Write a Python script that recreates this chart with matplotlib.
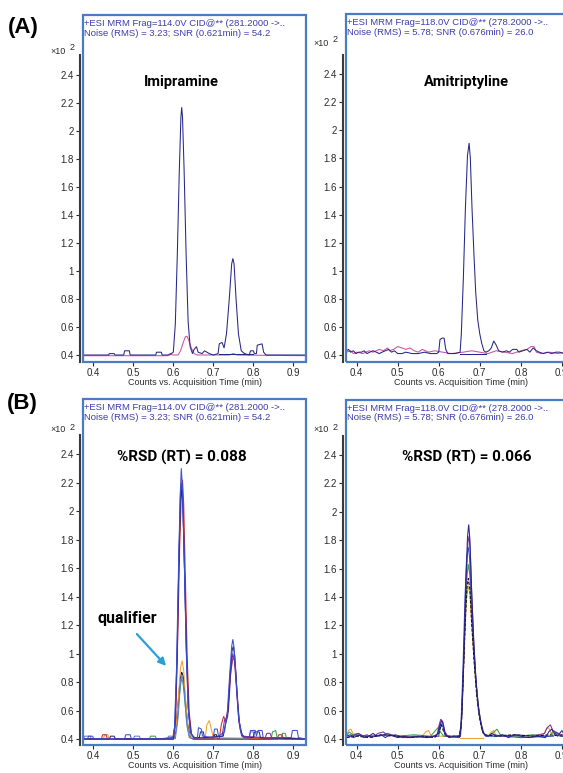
import matplotlib
matplotlib.use("Agg")
import matplotlib.pyplot as plt
from matplotlib.patches import Rectangle, FancyArrowPatch
from matplotlib.ticker import FuncFormatter

plt.rcParams['font.family'] = ['Liberation Sans', 'DejaVu Sans']

# axis ticks
time_ticks = [0.4, 0.5, 0.6, 0.7, 0.8, 0.9]
count_ticks = [0.4, 0.6, 0.8, 1.0, 1.2, 1.4, 1.6, 1.8, 2.0, 2.2, 2.4]

imi_header = ['+ESI MRM Frag=114.0V CID@** (281.2000 ->..',
              'Noise (RMS) = 3.23; SNR (0.621min) = 54.2']
ami_header = ['+ESI MRM Frag=118.0V CID@** (278.2000 ->..',
              'Noise (RMS) = 5.78; SNR (0.676min) = 26.0']

# (time min, counts x10^2) vertices
# --- (A) Imipramine, single injection
a_imi_quant = [(0.375, 0.40), (0.438, 0.40), (0.440, 0.41), (0.452, 0.41), (0.454, 0.40),
               (0.476, 0.40), (0.478, 0.43), (0.490, 0.43), (0.492, 0.40), (0.556, 0.40),
               (0.558, 0.42), (0.570, 0.42), (0.572, 0.40), (0.590, 0.40), (0.595, 0.41),
               (0.600, 0.42), (0.605, 0.62), (0.610, 1.12), (0.615, 1.72), (0.619, 2.10),
               (0.621, 2.17), (0.623, 2.10), (0.627, 1.72), (0.632, 1.12), (0.637, 0.64),
               (0.642, 0.46), (0.648, 0.41), (0.652, 0.44), (0.658, 0.46), (0.662, 0.42),
               (0.672, 0.41), (0.678, 0.43), (0.684, 0.42), (0.690, 0.41), (0.700, 0.40),
               (0.712, 0.41), (0.715, 0.48), (0.722, 0.49), (0.727, 0.45), (0.733, 0.55),
               (0.740, 0.80), (0.746, 1.05), (0.749, 1.09), (0.752, 1.05), (0.757, 0.80),
               (0.763, 0.55), (0.770, 0.43), (0.778, 0.41), (0.790, 0.40), (0.793, 0.43),
               (0.800, 0.43), (0.803, 0.41), (0.808, 0.41), (0.810, 0.47), (0.822, 0.48),
               (0.826, 0.42), (0.832, 0.40), (0.932, 0.40)]
a_imi_qual = [(0.375, 0.395), (0.585, 0.395), (0.592, 0.41), (0.598, 0.40), (0.612, 0.40),
              (0.618, 0.43), (0.625, 0.49), (0.630, 0.53), (0.634, 0.535), (0.638, 0.51),
              (0.645, 0.45), (0.652, 0.41), (0.660, 0.40), (0.740, 0.40), (0.750, 0.41),
              (0.760, 0.40), (0.932, 0.395)]
a_imi_base = [(0.715, 0.41), (0.800, 0.41)]

# --- (A) Amitriptyline, single injection
a_ami_quant = [(0.375, 0.43), (0.380, 0.44), (0.385, 0.42), (0.392, 0.43), (0.398, 0.41),
               (0.405, 0.42), (0.412, 0.42), (0.418, 0.43), (0.425, 0.41), (0.432, 0.42),
               (0.440, 0.43), (0.448, 0.42), (0.455, 0.41), (0.462, 0.42), (0.470, 0.43),
               (0.478, 0.44), (0.485, 0.42), (0.492, 0.43), (0.500, 0.41), (0.510, 0.41),
               (0.520, 0.42), (0.535, 0.41), (0.550, 0.41), (0.565, 0.42), (0.580, 0.41),
               (0.595, 0.41), (0.600, 0.42), (0.603, 0.51), (0.608, 0.52), (0.613, 0.52),
               (0.617, 0.44), (0.622, 0.41), (0.640, 0.41), (0.652, 0.42), (0.655, 0.55),
               (0.660, 0.95), (0.665, 1.45), (0.670, 1.82), (0.674, 1.91), (0.677, 1.80),
               (0.681, 1.45), (0.686, 1.10), (0.690, 0.85), (0.695, 0.65), (0.700, 0.55),
               (0.705, 0.48), (0.710, 0.43), (0.715, 0.42), (0.722, 0.43), (0.728, 0.45),
               (0.734, 0.50), (0.740, 0.47), (0.746, 0.43), (0.755, 0.42), (0.765, 0.43),
               (0.772, 0.42), (0.780, 0.44), (0.790, 0.44), (0.795, 0.42), (0.805, 0.43),
               (0.815, 0.44), (0.822, 0.42), (0.830, 0.45), (0.838, 0.43), (0.845, 0.42),
               (0.855, 0.41), (0.865, 0.42), (0.875, 0.41), (0.885, 0.42), (0.895, 0.42),
               (0.905, 0.41), (0.915, 0.42), (0.932, 0.42)]
a_ami_qual = [(0.375, 0.42), (0.385, 0.43), (0.392, 0.41), (0.400, 0.42), (0.415, 0.41),
              (0.430, 0.43), (0.440, 0.42), (0.455, 0.44), (0.465, 0.43), (0.475, 0.45),
              (0.480, 0.43), (0.490, 0.44), (0.500, 0.46), (0.510, 0.45), (0.520, 0.44),
              (0.530, 0.45), (0.540, 0.43), (0.550, 0.42), (0.560, 0.44), (0.575, 0.42),
              (0.590, 0.43), (0.610, 0.42), (0.630, 0.41), (0.660, 0.42), (0.680, 0.43),
              (0.700, 0.42), (0.720, 0.41), (0.740, 0.43), (0.760, 0.42), (0.780, 0.41),
              (0.800, 0.43), (0.815, 0.44), (0.825, 0.46), (0.832, 0.46), (0.838, 0.42),
              (0.850, 0.41), (0.870, 0.42), (0.890, 0.41), (0.910, 0.42), (0.932, 0.41)]
a_ami_base = [(0.652, 0.41), (0.715, 0.41)]

# --- (B) Imipramine, overlaid injections
b_imi_blue = [(0.375, 0.40), (0.385, 0.40), (0.388, 0.42), (0.398, 0.42), (0.401, 0.40),
              (0.478, 0.40), (0.481, 0.43), (0.492, 0.43), (0.495, 0.40), (0.598, 0.40),
              (0.603, 0.48), (0.608, 0.90), (0.613, 1.60), (0.617, 2.10), (0.620, 2.30),
              (0.623, 2.15), (0.627, 1.70), (0.632, 1.05), (0.637, 0.62), (0.642, 0.46),
              (0.648, 0.42), (0.660, 0.40), (0.663, 0.48), (0.670, 0.47), (0.673, 0.42),
              (0.700, 0.41), (0.703, 0.47), (0.710, 0.47), (0.713, 0.42), (0.728, 0.45),
              (0.735, 0.58), (0.741, 0.85), (0.746, 1.05), (0.749, 1.10), (0.752, 1.04),
              (0.757, 0.82), (0.763, 0.56), (0.770, 0.44), (0.778, 0.41), (0.790, 0.41),
              (0.793, 0.46), (0.805, 0.46), (0.808, 0.42), (0.812, 0.46), (0.822, 0.46),
              (0.825, 0.41), (0.895, 0.41), (0.898, 0.46), (0.910, 0.46), (0.913, 0.41),
              (0.932, 0.40)]
b_imi_red = [(0.375, 0.40), (0.420, 0.40), (0.423, 0.43), (0.432, 0.43), (0.435, 0.40),
             (0.600, 0.40), (0.606, 0.55), (0.611, 1.10), (0.616, 1.75), (0.620, 2.12),
             (0.623, 2.22), (0.626, 2.05), (0.630, 1.55), (0.635, 0.95), (0.640, 0.58),
             (0.646, 0.43), (0.655, 0.40), (0.715, 0.40), (0.720, 0.50), (0.726, 0.56),
             (0.731, 0.52), (0.737, 0.62), (0.743, 0.85), (0.748, 0.95), (0.752, 0.97),
             (0.756, 0.88), (0.761, 0.65), (0.767, 0.47), (0.775, 0.41), (0.860, 0.40),
             (0.864, 0.43), (0.872, 0.43), (0.876, 0.40), (0.932, 0.40)]
b_imi_purple = [(0.375, 0.40), (0.560, 0.40), (0.600, 0.41), (0.605, 0.52), (0.610, 1.00),
                (0.614, 1.70), (0.618, 2.12), (0.621, 2.20), (0.624, 2.05), (0.628, 1.60),
                (0.633, 1.00), (0.638, 0.60), (0.644, 0.44), (0.652, 0.41), (0.690, 0.41),
                (0.722, 0.42), (0.728, 0.53), (0.733, 0.55), (0.738, 0.60), (0.744, 0.88),
                (0.749, 1.00), (0.753, 0.95), (0.758, 0.75), (0.764, 0.52), (0.771, 0.42),
                (0.830, 0.41), (0.834, 0.44), (0.842, 0.44), (0.846, 0.41), (0.932, 0.40)]
b_imi_navy = [(0.375, 0.40), (0.440, 0.40), (0.443, 0.42), (0.452, 0.42), (0.455, 0.40),
              (0.600, 0.40), (0.604, 0.50), (0.609, 0.95), (0.614, 1.65), (0.618, 2.08),
              (0.621, 2.15), (0.624, 2.02), (0.628, 1.58), (0.633, 1.00), (0.638, 0.60),
              (0.644, 0.44), (0.652, 0.41), (0.665, 0.41), (0.668, 0.45), (0.675, 0.45),
              (0.678, 0.41), (0.725, 0.42), (0.730, 0.50), (0.736, 0.56), (0.742, 0.85),
              (0.747, 1.02), (0.750, 1.05), (0.754, 0.98), (0.759, 0.75), (0.765, 0.52),
              (0.772, 0.43), (0.780, 0.41), (0.800, 0.41), (0.803, 0.45), (0.815, 0.45),
              (0.818, 0.41), (0.932, 0.40)]
b_imi_orange = [(0.375, 0.40), (0.425, 0.40), (0.428, 0.43), (0.436, 0.43), (0.439, 0.40),
                (0.600, 0.40), (0.607, 0.48), (0.613, 0.70), (0.618, 0.90), (0.622, 0.95),
                (0.626, 0.88), (0.631, 0.66), (0.637, 0.47), (0.643, 0.41), (0.680, 0.41),
                (0.684, 0.50), (0.690, 0.53), (0.695, 0.47), (0.700, 0.41), (0.932, 0.40)]
b_imi_black = [(0.375, 0.40), (0.600, 0.40), (0.606, 0.46), (0.612, 0.65), (0.617, 0.82),
               (0.621, 0.87), (0.625, 0.84), (0.630, 0.68), (0.636, 0.50), (0.642, 0.42),
               (0.650, 0.40), (0.700, 0.40), (0.703, 0.43), (0.708, 0.43), (0.711, 0.40),
               (0.932, 0.40)]
b_imi_green = [(0.375, 0.40), (0.540, 0.40), (0.543, 0.42), (0.555, 0.42), (0.558, 0.40),
               (0.603, 0.41), (0.609, 0.50), (0.615, 0.70), (0.620, 0.82), (0.624, 0.80),
               (0.629, 0.66), (0.635, 0.48), (0.641, 0.41), (0.650, 0.40), (0.845, 0.40),
               (0.848, 0.45), (0.856, 0.46), (0.860, 0.41), (0.870, 0.41), (0.873, 0.44),
               (0.880, 0.44), (0.883, 0.41), (0.932, 0.40)]
b_imi_lightblue = [(0.375, 0.40), (0.378, 0.42), (0.392, 0.42), (0.395, 0.40), (0.500, 0.40),
                   (0.503, 0.42), (0.515, 0.42), (0.518, 0.40), (0.585, 0.40), (0.588, 0.42),
                   (0.596, 0.42), (0.605, 0.40), (0.612, 0.55), (0.618, 0.80), (0.622, 0.85),
                   (0.627, 0.75), (0.633, 0.52), (0.640, 0.41), (0.650, 0.40), (0.790, 0.40),
                   (0.793, 0.45), (0.800, 0.45), (0.803, 0.41), (0.932, 0.40)]

# --- (B) Amitriptyline, overlaid injections
b_ami_navy = [(0.375, 0.42), (0.385, 0.43), (0.392, 0.41), (0.400, 0.42), (0.410, 0.43),
              (0.418, 0.41), (0.430, 0.42), (0.440, 0.44), (0.448, 0.42), (0.460, 0.43),
              (0.470, 0.41), (0.480, 0.43), (0.490, 0.42), (0.500, 0.41), (0.515, 0.42),
              (0.530, 0.41), (0.550, 0.42), (0.570, 0.41), (0.590, 0.42), (0.598, 0.44),
              (0.603, 0.50), (0.607, 0.53), (0.611, 0.50), (0.616, 0.43), (0.625, 0.41),
              (0.640, 0.42), (0.652, 0.42), (0.656, 0.55), (0.661, 0.98), (0.666, 1.50),
              (0.670, 1.82), (0.673, 1.91), (0.676, 1.80), (0.680, 1.45), (0.685, 1.10),
              (0.690, 0.85), (0.695, 0.66), (0.700, 0.55), (0.706, 0.46), (0.712, 0.43),
              (0.720, 0.42), (0.730, 0.44), (0.740, 0.42), (0.755, 0.43), (0.770, 0.41),
              (0.785, 0.43), (0.800, 0.42), (0.820, 0.41), (0.840, 0.42), (0.860, 0.41),
              (0.868, 0.45), (0.875, 0.47), (0.882, 0.44), (0.890, 0.42), (0.900, 0.46),
              (0.908, 0.42), (0.920, 0.41), (0.932, 0.42)]
b_ami_purple = [(0.375, 0.41), (0.390, 0.42), (0.405, 0.44), (0.415, 0.42), (0.425, 0.43),
                (0.438, 0.41), (0.452, 0.44), (0.465, 0.45), (0.478, 0.42), (0.495, 0.43),
                (0.512, 0.41), (0.540, 0.42), (0.575, 0.41), (0.596, 0.43), (0.601, 0.50),
                (0.605, 0.54), (0.610, 0.52), (0.615, 0.45), (0.622, 0.42), (0.650, 0.41),
                (0.653, 0.42), (0.657, 0.60), (0.662, 1.05), (0.667, 1.52), (0.671, 1.78),
                (0.674, 1.83), (0.677, 1.70), (0.681, 1.38), (0.686, 1.05), (0.691, 0.80),
                (0.697, 0.62), (0.702, 0.52), (0.708, 0.45), (0.714, 0.42), (0.735, 0.43),
                (0.760, 0.42), (0.790, 0.43), (0.830, 0.42), (0.858, 0.44), (0.864, 0.48),
                (0.872, 0.50), (0.878, 0.46), (0.895, 0.43), (0.932, 0.42)]
b_ami_green = [(0.375, 0.42), (0.382, 0.45), (0.390, 0.43), (0.402, 0.44), (0.412, 0.42),
               (0.440, 0.42), (0.470, 0.43), (0.500, 0.42), (0.540, 0.43), (0.580, 0.42),
               (0.592, 0.46), (0.598, 0.48), (0.604, 0.45), (0.612, 0.42), (0.650, 0.42),
               (0.655, 0.52), (0.660, 0.90), (0.665, 1.30), (0.669, 1.55), (0.672, 1.63),
               (0.676, 1.55), (0.680, 1.30), (0.686, 1.00), (0.692, 0.76), (0.698, 0.60),
               (0.704, 0.50), (0.710, 0.44), (0.720, 0.42), (0.735, 0.45), (0.742, 0.47),
               (0.750, 0.43), (0.790, 0.42), (0.830, 0.43), (0.870, 0.42), (0.880, 0.46),
               (0.888, 0.43), (0.932, 0.42)]
b_ami_orange = [(0.375, 0.42), (0.380, 0.46), (0.386, 0.47), (0.392, 0.43), (0.420, 0.42),
                (0.480, 0.43), (0.520, 0.42), (0.560, 0.42), (0.568, 0.45), (0.575, 0.46),
                (0.582, 0.42), (0.640, 0.42), (0.652, 0.42), (0.658, 0.70), (0.663, 1.10),
                (0.668, 1.40), (0.672, 1.48), (0.676, 1.42), (0.681, 1.18), (0.687, 0.92),
                (0.693, 0.72), (0.698, 0.60), (0.703, 0.52), (0.708, 0.44), (0.720, 0.42),
                (0.728, 0.45), (0.734, 0.46), (0.740, 0.42), (0.800, 0.42), (0.855, 0.43),
                (0.862, 0.47), (0.868, 0.48), (0.874, 0.44), (0.932, 0.42)]
b_ami_orange_base = [(0.652, 0.405), (0.708, 0.405)]
b_ami_black = [(0.375, 0.41), (0.400, 0.42), (0.430, 0.41), (0.460, 0.43), (0.500, 0.42),
               (0.530, 0.41), (0.560, 0.42), (0.590, 0.41), (0.600, 0.44), (0.606, 0.50),
               (0.612, 0.45), (0.620, 0.42), (0.650, 0.42), (0.655, 0.50), (0.660, 0.85),
               (0.665, 1.25), (0.669, 1.47), (0.672, 1.53), (0.676, 1.45), (0.680, 1.22),
               (0.686, 0.95), (0.692, 0.72), (0.698, 0.57), (0.704, 0.48), (0.710, 0.43),
               (0.740, 0.42), (0.780, 0.43), (0.830, 0.42), (0.870, 0.43), (0.900, 0.42),
               (0.932, 0.41)]
b_ami_blue = [(0.375, 0.41), (0.395, 0.43), (0.420, 0.42), (0.455, 0.42), (0.475, 0.44),
              (0.495, 0.42), (0.520, 0.41), (0.600, 0.42), (0.605, 0.51), (0.610, 0.49),
              (0.616, 0.42), (0.650, 0.41), (0.654, 0.48), (0.659, 0.90), (0.664, 1.40),
              (0.668, 1.68), (0.672, 1.75), (0.675, 1.68), (0.679, 1.40), (0.684, 1.08),
              (0.690, 0.82), (0.696, 0.63), (0.702, 0.52), (0.708, 0.45), (0.715, 0.42),
              (0.760, 0.42), (0.800, 0.41), (0.880, 0.42), (0.885, 0.45), (0.892, 0.44),
              (0.900, 0.42), (0.932, 0.41)]

NAVY = '#26268a'
PINK = '#d0509a'
BLUE = '#3a50d0'
LBLUE = '#5d80d8'
RED = '#c8302c'
PURPLE = '#7a2ea0'
ORANGE = '#f0a030'
GREEN = '#38a040'
BLACK = '#111111'
FRAME = '#4a7cc4'
HEADER = '#3c3cae'

W, H = 563, 773
fig = plt.figure(figsize=(W / 100, H / 100), dpi=100)
fig.patch.set_facecolor('white')


def box(l, t, r, b):
    return [l / W, 1 - b / H, (r - l) / W, (b - t) / H]


def fx(x):
    return x / W


def fy(y):
    return 1 - y / H


def panel(rect, ylim, spine_top, header, traces):
    ax = fig.add_axes(rect)
    for pts, color, ls in traces:
        t, c = zip(*pts)
        ax.plot(t, c, color=color, lw=0.75, ls=ls, solid_joinstyle='miter')
    ax.set_xlim(0.374, 0.932)
    ax.set_ylim(*ylim)
    for s in ['top', 'right', 'bottom']:
        ax.spines[s].set_visible(False)
    ax.spines['left'].set_position(('outward', 2.2))
    ax.spines['left'].set_bounds(ylim[0], spine_top)
    ax.spines['left'].set_color('#3a3a3a')
    ax.spines['left'].set_linewidth(1.5)
    ax.add_patch(Rectangle((0, 0), 1, 1, transform=ax.transAxes, fill=False,
                           ec=FRAME, lw=1.6, clip_on=False, zorder=5))
    ax.set_xticks(time_ticks)
    ax.set_yticks(count_ticks)
    ax.yaxis.set_major_formatter(FuncFormatter(lambda v, p: f'{v:g}'))
    ax.tick_params(axis='both', direction='out', length=3, width=0.8,
                   labelsize=7, colors='#2a2a2a', pad=1.5)
    ax.set_xlabel('Counts vs. Acquisition Time (min)', fontsize=6.5,
                  color='#2a2a2a', labelpad=0)
    ax.text(0.006, 0.988, header[0] + '\n' + header[1], transform=ax.transAxes,
            ha='left', va='top', fontsize=6.8, color=HEADER, linespacing=1.05,
            zorder=6)
    return ax


ylim_a = (0.35, 2.829)
ylim_b = (0.358, 2.786)

panel(box(83, 15, 306, 362), ylim_a, 2.54, imi_header,
      [(a_imi_qual, PINK, '-'), (a_imi_base, NAVY, '-'), (a_imi_quant, NAVY, '-')])
panel(box(346, 14, 575, 362), ylim_a, 2.54, ami_header,
      [(a_ami_qual, PINK, '-'), (a_ami_base, NAVY, '-'), (a_ami_quant, NAVY, '-')])
panel(box(83, 399, 306, 745), ylim_b, 2.53, imi_header,
      [(b_imi_green, GREEN, '-'), (b_imi_black, BLACK, '-'), (b_imi_orange, ORANGE, '-'),
       (b_imi_lightblue, LBLUE, '-'), (b_imi_red, RED, '-'), (b_imi_purple, PURPLE, '-'),
       (b_imi_navy, NAVY, '-'), (b_imi_blue, BLUE, '-')])
panel(box(346, 400, 575, 745), ylim_b, 2.53, ami_header,
      [(b_ami_orange, ORANGE, '-'), (b_ami_orange_base, ORANGE, '-'),
       (b_ami_green, GREEN, '-'), (b_ami_blue, BLUE, '-'), (b_ami_purple, PURPLE, '-'),
       (b_ami_black, BLACK, (0, (3, 1.5))), (b_ami_navy, NAVY, '-')])

# labels
narrow = ['Roboto', 'Liberation Sans', 'DejaVu Sans']
fig.text(fx(8), fy(27), '(A)', fontsize=16, fontweight='bold', va='center', ha='left')
fig.text(fx(7), fy(404), '(B)', fontsize=16, fontweight='bold', va='center', ha='left')
for x, y in [(50, 51), (313, 43), (50, 430), (313, 430)]:
    fig.text(fx(x), fy(y), '×10', fontsize=6.5, va='center', ha='left', color='#2a2a2a')
    fig.text(fx(x + 20), fy(y - 3), '2', fontsize=6.5, va='center', ha='left', color='#2a2a2a')

fig.text(fx(181), fy(82), 'Imipramine', family=narrow, fontsize=10.5,
         fontweight='bold', ha='center', va='center')
fig.text(fx(466), fy(82), 'Amitriptyline', family=narrow, fontsize=10.5,
         fontweight='bold', ha='center', va='center')
fig.text(fx(182), fy(457), '%RSD (RT) = 0.088', family=narrow, fontsize=11,
         fontweight='bold', ha='center', va='center')
fig.text(fx(467), fy(457), '%RSD (RT) = 0.066', family=narrow, fontsize=11,
         fontweight='bold', ha='center', va='center')
fig.text(fx(127), fy(619), 'qualifier', family=narrow, fontsize=11.5,
         fontweight='bold', ha='center', va='center')
fig.add_artist(FancyArrowPatch((fx(135), fy(632)), (fx(168), fy(668)),
                               transform=fig.transFigure, arrowstyle='-|>',
                               mutation_scale=11, color='#2a9fd8', lw=1.6))

fig.savefig('out.png', dpi=100, facecolor='white')
